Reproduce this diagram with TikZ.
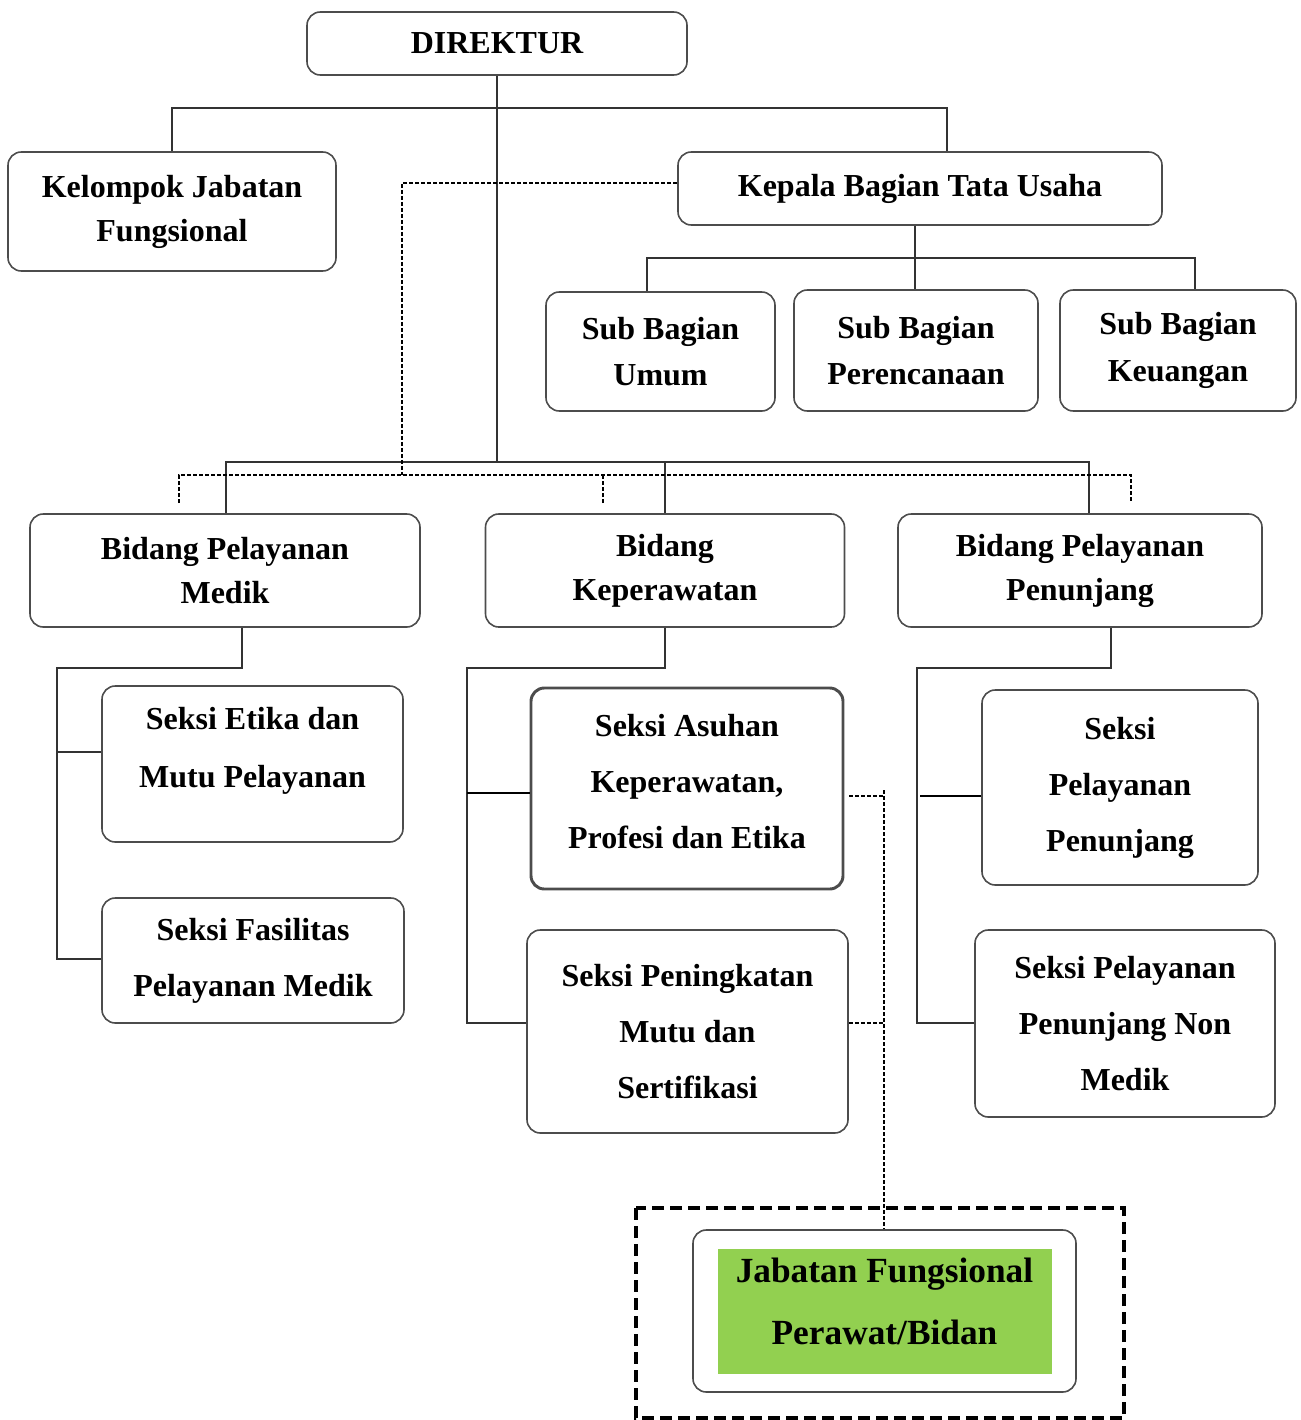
\documentclass[tikz,border=0pt]{standalone}
\usepackage{fontspec}
\setmainfont{Liberation Serif}
\definecolor{jfgreen}{HTML}{92D050}
\begin{document}
\begin{tikzpicture}[x=0.75pt,y=-0.75pt,
  box/.style={draw=black!70, line width=1.2pt, rounded corners=10pt, inner sep=0pt, align=center, font=\bfseries\fontsize{24}{33}\selectfont},
  sz/.style 2 args={minimum width={#1*0.75pt}, minimum height={#2*0.75pt}},
  lsp/.style={font=\bfseries\fontsize{24}{#1}\selectfont},
  conn/.style={draw=black!80, line width=1pt},
  thk/.style={draw=black, line width=1.8pt},
  dsh/.style={draw=black, line width=1.6pt, dash pattern=on 3pt off 1.5pt},
  frame/.style={draw=black, line width=2.8pt, dash pattern=on 9pt off 4.5pt}]
\useasboundingbox (0,0) rectangle (1300,1420);

% boxes
\node[box,sz={380}{63}] (dir) at (497,43.5) {DIREKTUR};
\node[box,sz={328}{119},lsp=33pt] (kjf) at (172,211.5) {Kelompok Jabatan\\Fungsional};
\node[box,sz={484}{73}] (kbtu) at (920,188.5) {Kepala Bagian Tata Usaha};
\node[box,sz={229}{119},lsp=35pt] (sbu) at (660.5,351.5) {Sub Bagian\\Umum};
\node[box,sz={244}{121},lsp=35pt] (sbp) at (916,350.5) {Sub Bagian\\Perencanaan};
\node[box,sz={236}{121},lsp=35pt] (sbk) at (1178,350.5) {Sub Bagian\\Keuangan};
\node[box,sz={390}{113},lsp=33pt] (bpm) at (225,570.5) {Bidang Pelayanan\\Medik};
\node[box,sz={359}{113},lsp=33pt] (bk) at (665,570.5) {Bidang\\Keperawatan};
\node[box,sz={364}{113},lsp=33pt] (bpp) at (1080,570.5) {Bidang Pelayanan\\Penunjang};
\node[box,sz={301}{156},lsp=43pt,text depth=25pt] (sem) at (252.5,764) {Seksi Etika dan\\Mutu Pelayanan};
\node[box,sz={302}{125},lsp=42pt] (sfp) at (253,960.5) {Seksi Fasilitas\\Pelayanan Medik};
\node[box,sz={312}{201},lsp=42pt,line width=2.2pt,text depth=10pt] (sak) at (687,788.5) {Seksi Asuhan\\Keperawatan,\\Profesi dan Etika};
\node[box,sz={321}{203},lsp=42pt] (spm) at (687.5,1031.5) {Seksi Peningkatan\\Mutu dan\\Sertifikasi};
\node[box,sz={276}{195},lsp=42pt] (spp) at (1120,787.5) {Seksi\\Pelayanan\\Penunjang};
\node[box,sz={300}{187},lsp=42pt] (spn) at (1125,1023.5) {Seksi Pelayanan\\Penunjang Non\\Medik};

% bottom highlighted box
\draw[frame] (636,1208) rectangle (1124,1418);
\fill[jfgreen] (718,1249) rectangle (1052,1374);
\node[box,sz={383}{162},font=\bfseries\fontsize{26.5}{46.5}\selectfont,text depth=14pt] (jf) at (884.5,1311) {Jabatan Fungsional\\Perawat/Bidan};

% helper coordinates
\coordinate (c0r) at (947,108);
\coordinate (c1) at (915,258);
\coordinate (c1l) at (647,258);
\coordinate (c1r) at (1195,258);
\coordinate (c2) at (497,462);
\coordinate (b1) at (226,462);
\coordinate (b2) at (665,462);
\coordinate (b3) at (1089,462);
\coordinate (c3) at (402,183);
\coordinate (c4) at (402,475);
\coordinate (e1) at (179,503);
\coordinate (e2) at (603,503);
\coordinate (e3) at (1131,503);
\coordinate (m1) at (242,668);
\coordinate (m2) at (57,668);
\coordinate (m3) at (57,752);
\coordinate (m4) at (57,959);
\coordinate (k2) at (467,668);
\coordinate (k3) at (467,1023);
\coordinate (k4) at (467,793);
\coordinate (p1) at (1111,668);
\coordinate (p2) at (917,668);
\coordinate (p3) at (917,1023);
\coordinate (p4) at (920,796);
\coordinate (d0) at (884,790);
\coordinate (d1) at (884,796);
\coordinate (d2) at (884,1023);

% solid connectors
\draw[conn] (dir.south) -- (c2);
\draw[conn] (kjf.north) |- (c0r) -- (c0r |- kbtu.north);
\draw[conn] (kbtu.south -| c1) -- (c1);
\draw[conn] (c1l |- sbu.north) -- (c1l) -- (c1r) -- (c1r |- sbk.north);
\draw[conn] (c1) -- (c1 |- sbp.north);
\draw[conn] (b1 |- bpm.north) -- (b1) -- (b3) -- (b3 |- bpp.north);
\draw[conn] (b2) -- (b2 |- bk.north);
\draw[conn] (bpm.south -| m1) -- (m1) -- (m2) -- (m4) -- (m4 -| sfp.west);
\draw[conn] (m3) -- (m3 -| sem.west);
\draw[conn] (bk.south) -- (bk.south |- k2) -- (k2) -- (k3) -- (k3 -| spm.west);
\draw[thk] (k4) -- (k4 -| sak.west);
\draw[conn] (p1 |- bpp.south) -- (p1) -- (p2) -- (p3) -- (p3 -| spn.west);
\draw[thk] (p4) -- (p4 -| spp.west);

% dashed connectors
\draw[dsh] (c3 -| kbtu.west) -- (c3) -- (c4);
\draw[dsh] (e1) |- (e3 |- c4) -- (e3);
\draw[dsh] (e2) -- (e2 |- c4);
\draw[dsh] ([xshift=3.75pt]sak.east |- d1) -- (d1);
\draw[dsh] (d0) -- (d0 |- jf.north);
\draw[dsh] (spm.east |- d2) -- (d2);
\end{tikzpicture}
\end{document}
